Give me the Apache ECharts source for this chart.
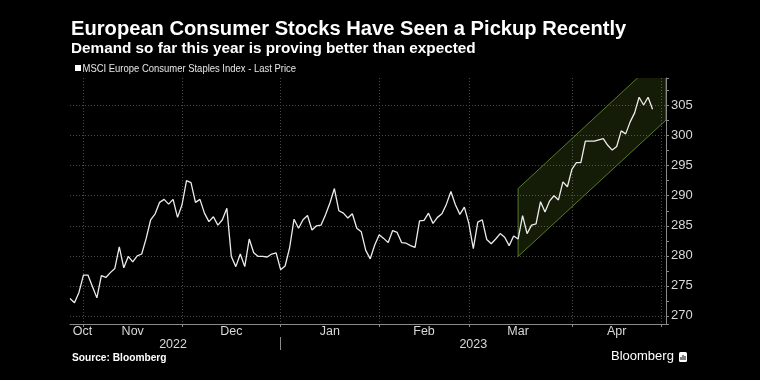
<!DOCTYPE html>
<html>
<head>
<meta charset="utf-8">
<script src="https://cdn.jsdelivr.net/npm/echarts@6/dist/echarts.min.js"></script>
<style>
html,body{margin:0;padding:0;background:#000;}
#c{width:760px;height:380px;}
</style>
</head>
<body>
<div id="c"></div>
<script>
// ---- data ----
const startDate = '2022-10-27';
const endDate = '2023-05-02';
const seriesName = 'MSCI Europe Consumer Staples Index - Last Price';
const prices = [
 272.9,272.2,273.9,276.8,276.8,274.9,273.0,276.7,276.4,277.2,
 277.9,281.5,278.0,279.9,279.0,280.0,280.3,282.9,286.0,287.0,
 288.9,289.4,288.6,289.4,286.4,288.5,292.5,292.2,288.9,289.4,
 287.1,285.7,286.5,285.1,286.0,287.9,279.9,278.2,280.3,278.2,
 282.8,280.5,279.9,279.9,279.8,280.3,280.5,277.7,278.3,281.3,
 286.1,284.6,286.0,286.7,284.3,285.0,285.1,286.8,288.8,291.2,
 287.5,287.1,286.3,287.0,284.6,284.0,280.9,279.5,281.8,283.5,
 282.9,282.2,284.2,283.9,282.2,282.1,281.7,281.4,285.8,285.9,
 287.1,285.4,286.4,287.0,288.6,290.7,288.5,286.9,288.1,285.4,
 281.2,285.6,286.0,282.7,282.0,282.8,283.7,283.1,281.7,283.3,
 282.8,286.7,283.7,285.1,285.3,289.0,287.3,289.1,290.0,289.3,
 292.3,291.5,294.4,295.5,295.5,299.1,299.1,299.1,299.3,299.5,
 298.4,297.6,298.2,300.8,300.3,302.3,303.8,306.4,305.1,306.4,
 304.4
];
const channelDates = ['2023-03-16', '2023-05-02'];
const channelLow = [279.9, 302.6];
const channelHigh = [291.2, 314.0];
const monthStartDates = ['2022-11-01','2022-12-01','2023-01-02','2023-02-01','2023-03-01','2023-04-03','2023-05-01'];
const monthLabelDates = ['2022-10-31','2022-11-16','2022-12-16','2023-01-17','2023-02-15','2023-03-16','2023-04-17'];
const monthLabels = ['Oct','Nov','Dec','Jan','Feb','Mar','Apr'];
const yearLabelDates = ['2022-11-29','2023-03-02'];
const yearLabels = ['2022','2023'];
const yearBreakDates = ['2023-01-02'];
const yMin = 268.65, yMax = 309.6;

// weekday category axis
function weekdays(a, b) {
  const out = [];
  const d = new Date(a + 'T00:00:00Z');
  const e = new Date(b + 'T00:00:00Z');
  while (d <= e) {
    const w = d.getUTCDay();
    if (w !== 0 && w !== 6) out.push(d.toISOString().slice(0, 10));
    d.setUTCDate(d.getUTCDate() + 1);
  }
  return out;
}
const dates = weekdays(startDate, endDate);

const FONT = '"Liberation Sans", Arial, sans-serif';
const chart = echarts.init(document.getElementById('c'), null, {renderer: 'canvas'});

const chIdx = channelDates.map(d => dates.indexOf(d));

chart.setOption({
  backgroundColor: '#000',
  animation: false,
  title: [
    {text: 'European Consumer Stocks Have Seen a Pickup Recently', left: 71, top: 19, padding: 0,
     textStyle: {color: '#fff', fontSize: 20.15, fontWeight: 'bold', fontFamily: FONT}},
    {text: 'Demand so far this year is proving better than expected', left: 71, top: 41, padding: 0,
     textStyle: {color: '#fff', fontSize: 15.3, fontWeight: 'bold', fontFamily: FONT}}
  ],
  grid: {left: 70, right: 94, top: 78, bottom: 56},
  xAxis: [
    {
      type: 'category', data: dates, boundaryGap: false,
      axisLine: {show: true, lineStyle: {color: '#8a8a8a', width: 1}},
      axisTick: {show: true, length: 3, interval: (i, v) => monthStartDates.includes(v), lineStyle: {color: '#8a8a8a'}},
      splitLine: {show: true, interval: (i, v) => monthStartDates.includes(v), lineStyle: {color: '#4a4a4a', type: [1, 2], width: 1}},
      axisLabel: {
        interval: (i, v) => monthLabelDates.includes(v), margin: 1,
        color: '#d8d8d8', fontSize: 12.5, fontFamily: FONT,
        formatter: v => {
          const k = monthLabelDates.indexOf(v);
          return k === 0 ? '{o|' + monthLabels[k] + '}' : monthLabels[k];
        },
        rich: {o: {padding: [0, 0, 0, 7], color: '#d8d8d8', fontSize: 12.5, fontFamily: FONT}}
      }
    },
    {
      type: 'category', data: dates, boundaryGap: false, position: 'bottom', offset: 13,
      axisLine: {show: false},
      axisTick: {show: true, length: 13, interval: (i, v) => yearBreakDates.includes(v), lineStyle: {color: '#8a8a8a'}},
      splitLine: {show: false},
      axisLabel: {
        interval: (i, v) => yearLabelDates.includes(v), margin: 1,
        color: '#d8d8d8', fontSize: 12.5, fontFamily: FONT,
        formatter: v => yearLabels[yearLabelDates.indexOf(v)]
      }
    }
  ],
  yAxis: {
    type: 'value', position: 'right', min: yMin, max: yMax, minInterval: 5, maxInterval: 5,
    axisLine: {show: true, lineStyle: {color: '#8a8a8a', width: 1}},
    axisTick: {show: true, length: 3, lineStyle: {color: '#8a8a8a'}},
    minorTick: {show: true, splitNumber: 2, length: 3, lineStyle: {color: '#8a8a8a'}},
    splitLine: {show: true, showMinLine: false, showMaxLine: false, lineStyle: {color: '#4a4a4a', type: [1, 2], width: 1}},
    axisLabel: {show: true, showMinLabel: false, showMaxLabel: false, margin: 5, color: '#d8d8d8', fontSize: 13, fontFamily: FONT}
  },
  series: [
    {
      type: 'custom', name: 'channel', clip: true, z: 1, silent: true,
      data: [0],
      renderItem: (params, api) => {
        const p = [
          api.coord([chIdx[0], channelLow[0]]),
          api.coord([chIdx[1], channelLow[1]]),
          api.coord([chIdx[1], channelHigh[1]]),
          api.coord([chIdx[0], channelHigh[0]])
        ];
        return {type: 'polygon', shape: {points: p},
          style: {fill: 'rgba(125,170,40,0.16)', stroke: '#587a2c', lineWidth: 1}};
      }
    },
    {
      type: 'line', name: seriesName, data: prices, z: 3,
      showSymbol: false, symbol: 'none',
      lineStyle: {color: '#ececec', width: 1.3}
    }
  ],
  graphic: [
    {type: 'group', left: 75, top: 63, children: [
      {type: 'rect', shape: {x: 0, y: 2, width: 6, height: 6}, style: {fill: '#fff'}},
      {type: 'text', x: 7.5, y: 0, scaleX: 0.86,
       style: {text: seriesName, fill: '#e6e6e6', font: '11px "Liberation Sans", Arial, sans-serif'}}
    ]},
    {type: 'text', left: 72, top: 353, style: {text: 'Source: Bloomberg', fill: '#fff', font: 'bold 10.2px "Liberation Sans", Arial, sans-serif'}},
    {type: 'text', left: 611, top: 350, style: {text: 'Bloomberg', fill: '#fff', font: '13px "Liberation Sans", Arial, sans-serif'}},
    {type: 'group', left: 679, top: 352, children: [
      {type: 'rect', shape: {x: 0, y: 0, width: 8, height: 10, r: 1.5}, style: {fill: '#fff'}},
      {type: 'rect', shape: {x: 1.5, y: 5, width: 1, height: 3}, style: {fill: '#000'}},
      {type: 'rect', shape: {x: 3.5, y: 3, width: 1, height: 5}, style: {fill: '#000'}},
      {type: 'rect', shape: {x: 5.5, y: 4, width: 1, height: 4}, style: {fill: '#000'}}
    ]}
  ]
});
</script>
</body>
</html>
